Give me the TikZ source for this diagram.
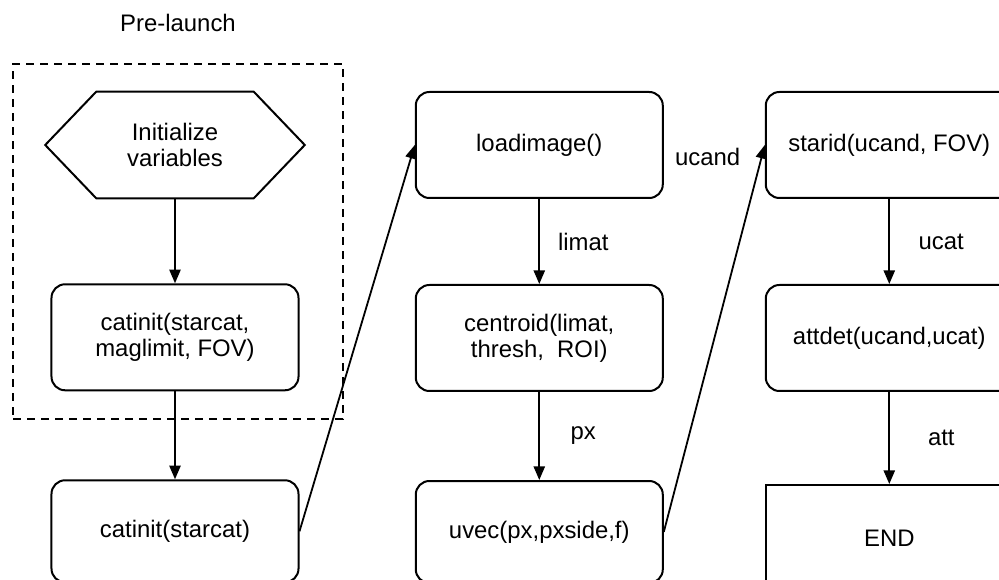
\documentclass[tikz,border=0pt]{standalone}
\usepackage{fontspec}
\setmainfont{Liberation Sans}
\usepackage{tikz}
\usetikzlibrary{positioning,arrows.meta,fit}

\begin{document}
\begin{tikzpicture}[font=\fontsize{17}{18.5}\selectfont,node distance=21.25mm,
  procbox/.style={draw,line width=0.5mm,rounded corners=3.4mm,minimum width=61.75mm,minimum height=26.5mm,align=center},
  arr/.style={line width=0.45mm,-{Triangle[length=3.4mm,width=2.8mm]}}]
\useasboundingbox (-43.75mm,36.25mm) rectangle (206mm,-108.75mm);
% pre-launch column
\node[minimum width=64.75mm,minimum height=26.5mm,align=center] (init) {Initialize\\variables};
\draw[line width=0.5mm] (init.west) -- ([xshift=12.75mm]init.north west) -- ([xshift=-12.75mm]init.north east) -- (init.east) -- ([xshift=-12.75mm]init.south east) -- ([xshift=12.75mm]init.south west) -- cycle;
\node[procbox,below=of init] (catfull) {catinit(starcat,\\maglimit, FOV)};
\node[procbox,below=22mm of catfull,minimum height=25.5mm] (catstar) {catinit(starcat)};
\node[draw,line width=0.45mm,dash pattern=on 2mm off 1.5mm,fit=(init)(catfull),inner xsep=8.75mm,inner ysep=7mm,xshift=0.75mm] (prebox) {};
\node[above=6.5mm of prebox] (prelbl) {Pre-launch};
% image column
\node[procbox,right=27.5mm of init] (load) {loadimage()};
\node[procbox,below=of load] (centroid) {centroid(limat,\\thresh,\ \ ROI)};
\node[procbox,below=22mm of centroid,minimum height=25.5mm] (uvec) {uvec(px,pxside,f)};
% star id column
\node[procbox,right=25.25mm of load] (starid) {starid(ucand, FOV)};
\node[procbox,below=of starid] (attdet) {attdet(ucand,ucat)};
\node[draw,line width=0.5mm,minimum width=61.75mm,minimum height=26.5mm,below=23mm of attdet] (endbox) {END};
\draw[arr] (init) -- (catfull);
\draw[arr] (catfull) -- (catstar);
\draw[arr] (catstar.east) -- (load.west);
\draw[arr] (load) -- node[xshift=11mm] (limatlbl) {limat} (centroid);
\draw[arr] (centroid) -- node[xshift=11mm] (pxlbl) {px} (uvec);
\draw[arr] (uvec.east) -- node[pos=0.97,left=4mm] (ucandlbl) {ucand} (starid.west);
\draw[arr] (starid) -- node[xshift=13mm] (ucatlbl) {ucat} (attdet);
\draw[arr] (attdet) -- node[xshift=13mm] (attlbl) {att} (endbox);
\end{tikzpicture}
\end{document}
